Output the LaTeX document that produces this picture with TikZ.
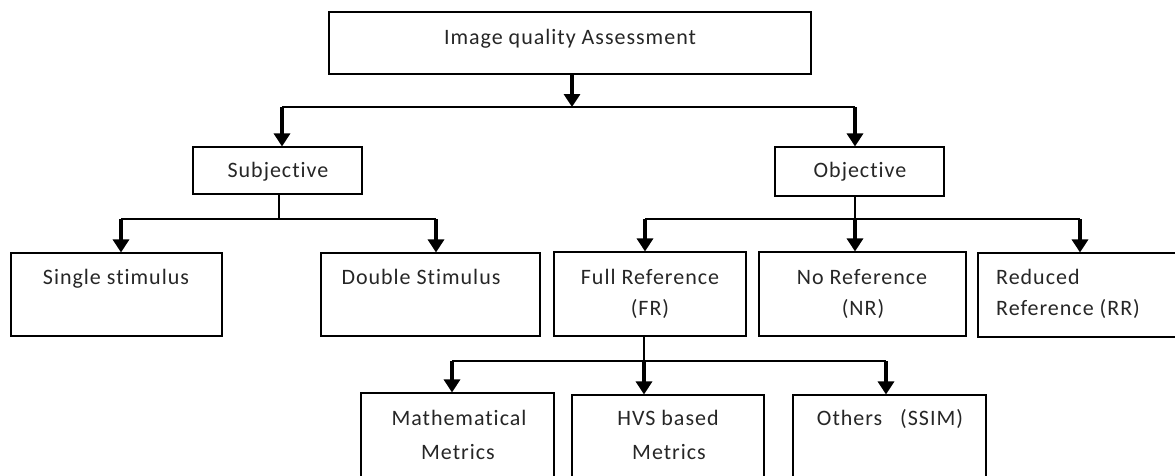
\documentclass[tikz,border=0pt]{standalone}
\usepackage{fontspec}
\setmainfont[Ligatures=NoCommon, LetterSpace=4.5]{Carlito}
\usetikzlibrary{arrows.meta}
\begin{document}
\begin{tikzpicture}[x=1pt,y=-1pt,
  box/.style={draw=black, line width=1.1pt, rectangle, inner sep=0pt},
  lbl/.style={anchor=base, inner sep=0pt, font=\fontsize{22}{26}\selectfont, text=black!85},
  lblw/.style={lbl, anchor=base west},
  thinln/.style={draw=black, line width=1.1pt},
  arr/.style={draw=black, line width=3.5pt, -{Triangle[width=16pt,length=13pt]}},
]
\useasboundingbox (0,0) rectangle (1175,475);
\clip (0,0) rectangle (1175,475);

% boxes
\node[box, minimum width=482pt, minimum height=62pt] (iqa) at (570,43) {};
\node[box, minimum width=169pt, minimum height=47pt] (subj) at (277.5,170.5) {};
\node[box, minimum width=169pt, minimum height=49pt] (obj) at (859.5,171.5) {};
\node[box, minimum width=211pt, minimum height=83pt] (single) at (116.5,294.5) {};
\node[box, minimum width=219pt, minimum height=83pt] (double) at (430.5,294.5) {};
\node[box, minimum width=192pt, minimum height=84pt] (fr) at (650,294) {};
\node[box, minimum width=207pt, minimum height=84pt] (nr) at (862.5,294) {};
\node[box, minimum width=222pt, minimum height=84pt] (rr) at (1089,295) {};
\node[box, minimum width=193pt, minimum height=107pt] (math) at (457.5,446.5) {};
\node[box, minimum width=192pt, minimum height=106pt] (hvs) at (668,448) {};
\node[box, minimum width=193pt, minimum height=106pt] (oth) at (889.5,448) {};

% labels
\node[lbl] (tiqa) at (570,44) {Image quality Assessment};
\node[lbl] (tsubj) at (278,177) {Subjective};
\node[lbl] (tobj) at (860,177) {Objective};
\node[lbl] (tsingle) at (116,284) {Single stimulus};
\node[lbl] (tdouble) at (421,284) {Double Stimulus};
\node[lbl] (tfr1) at (650,284) {Full Reference};
\node[lbl] (tfr2) at (650,315) {(FR)};
\node[lbl] (tnr1) at (862,284) {No Reference};
\node[lbl] (tnr2) at (863,315) {(NR)};
\node[lblw] (trr1) at (996,284) {Reduced};
\node[lblw] (trr2) at (996,315) {Reference (RR)};
\node[lbl] (tmath1) at (459,425) {Mathematical};
\node[lbl] (tmath2) at (458,459) {Metrics};
\node[lbl] (thvs1) at (668,425) {HVS based};
\node[lbl] (thvs2) at (669,459) {Metrics};
\node[lbl] (toth) at (890,425) {Others\ \ \ (SSIM)};

% level 1
\coordinate (h0) at (572,107);
\coordinate (hL) at (282,107);
\coordinate (hR) at (855,107);
\draw[arr] (h0 |- iqa.south) -- (h0);
\draw[thinln] (hL) -- (hR);
\draw[arr] (hL) -- (hL |- subj.north);
\draw[arr] (hR) -- (hR |- obj.north);

% subjective children
\coordinate (s0) at (279,219);
\coordinate (sL) at (121,219);
\coordinate (sR) at (436,219);
\draw[thinln] (s0 |- subj.south) -- (s0);
\draw[thinln] (sL) -- (sR);
\draw[arr] (sL) -- (sL |- single.north);
\draw[arr] (sR) -- (sR |- double.north);

% objective children
\coordinate (o0) at (855,219);
\coordinate (oL) at (645,219);
\coordinate (oR) at (1080,219);
\draw[thinln] (o0 |- obj.south) -- (o0);
\draw[thinln] (oL) -- (oR);
\draw[arr] (oL) -- (oL |- fr.north);
\draw[arr] (o0) -- (o0 |- nr.north);
\draw[arr] (oR) -- (oR |- rr.north);

% full reference children
\coordinate (f0) at (644,361);
\coordinate (fL) at (452,361);
\coordinate (fR) at (886,361);
\draw[thinln] (f0 |- fr.south) -- (f0);
\draw[thinln] (fL) -- (fR);
\draw[arr] (fL) -- (fL |- math.north);
\draw[arr] (f0) -- (f0 |- hvs.north);
\draw[arr] (fR) -- (fR |- oth.north);
\end{tikzpicture}
\end{document}
